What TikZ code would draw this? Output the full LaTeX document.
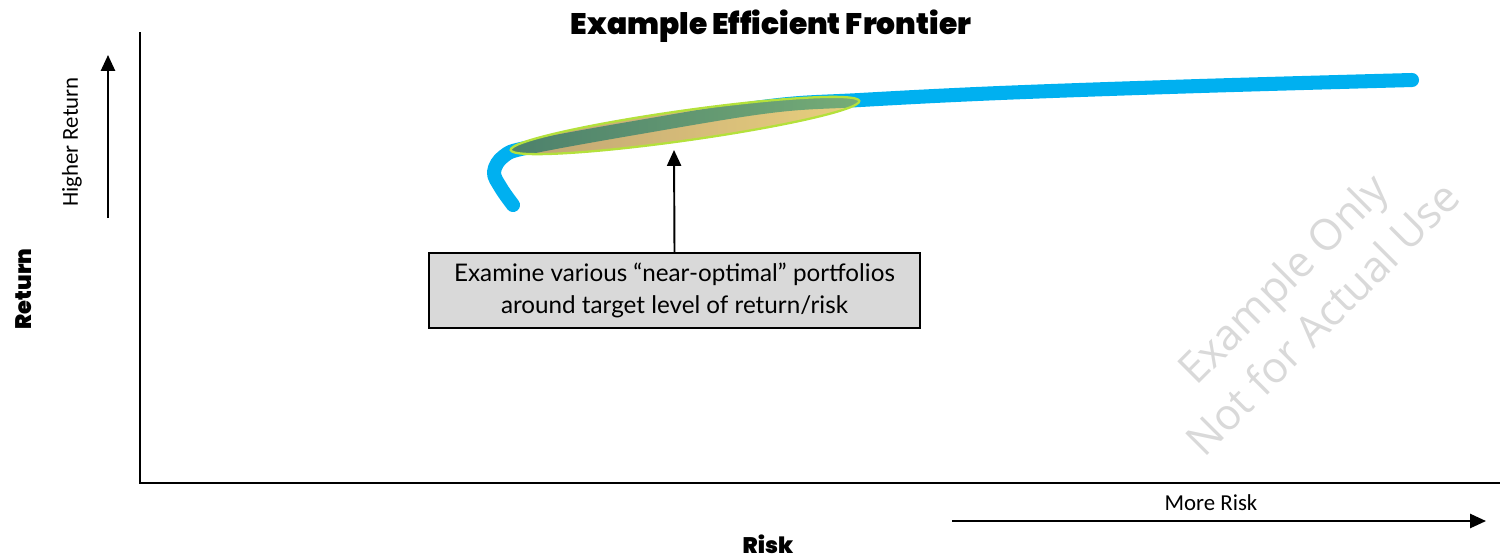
\documentclass[tikz,border=0pt]{standalone}
\usepackage{fontspec}
\setmainfont{Carlito}
\newfontfamily\heavy{Poppins Black}
\newfontfamily\boxfont{Lato}
\newfontfamily\wmfont{Open Sans}
\usetikzlibrary{arrows.meta}
\definecolor{frontier}{RGB}{0,176,240}
\definecolor{boxgray}{RGB}{217,217,217}
\definecolor{ellL}{RGB}{140,90,0}
\definecolor{ellR}{RGB}{215,170,20}
\definecolor{ellBorder}{RGB}{180,225,60}
\definecolor{wm}{RGB}{217,217,217}
\begin{document}
\begin{tikzpicture}[x=0.02cm,y=-0.02cm,
  axisline/.style={line width=1.2pt,black},
  dirarrow/.style={line width=1.1pt,-{Triangle[length=9pt,width=8pt]}},
  heading/.style={font=\heavy\fontsize{16.9}{20}\selectfont,inner sep=0pt},
  axislabel/.style={font=\heavy\fontsize{12.8}{15}\selectfont,inner sep=0pt},
  smalllabel/.style={font=\fontsize{13}{15}\selectfont,inner sep=0pt},
  notebox/.style={draw=black,line width=0.8pt,fill=boxgray,minimum width=491*0.02cm,minimum height=75*0.02cm,align=center,font=\boxfont\fontsize{13.8}{18}\selectfont},
  watermark/.style={font=\wmfont\fontsize{24.5}{32}\selectfont,text=wm,rotate=45,inner sep=0pt}]
\useasboundingbox (0,0) rectangle (1500,556);
% title
\node[heading] (title) at (771,26) {Example Efficient Frontier};
% axes
\coordinate (origin) at (140,483);
\coordinate (ytop) at (140,32);
\coordinate (xend) at (1500,483);
\draw[axisline] (ytop) -- (origin) -- (xend);
% axis labels
\node[axislabel,rotate=90] (ret) at (24,289) {Return};
\node[axislabel] (risk) at (768,544) {Risk};
% direction arrows
\coordinate (hrs) at (108,218);
\coordinate (hre) at (108,55);
\draw[dirarrow] (hrs) -- (hre);
\node[smalllabel,rotate=90] (hrl) at (72,142) {Higher Return};
\coordinate (mrs) at (952,521);
\coordinate (mre) at (1486,521);
\draw[dirarrow] (mrs) -- (mre);
\node[smalllabel] (mrl) at (1211,503) {More Risk};
% frontier curve
\draw[frontier,line width=8pt,line cap=round,line join=round]
  plot[smooth,tension=0.6] coordinates {(513,205) (501,188) (494,172) (504,156) (530,147) (640,127) (770,106) (860,100) (1000,93) (1200,86) (1412,80)};
% highlight ellipse
\shade[left color=ellL,right color=ellR,fill opacity=0.55,rotate around={8:(685,125.5)}]
  (685,125.5) ellipse [x radius=176,y radius=15];
\draw[ellBorder,line width=1.3pt,rotate around={8:(685,125.5)}]
  (685,125.5) ellipse [x radius=176,y radius=15];
% note box
\node[notebox] (note) at (674.5,290.5) {Examine various “near-optimal” portfolios\\around target level of return/risk};
\coordinate (tip) at (674,150);
\draw[dirarrow] (note.north) -- (tip);
% watermark
\node[watermark,align=center] (wmk) at (1302,298) {Example Only\\Not for Actual Use};
\end{tikzpicture}
\end{document}
